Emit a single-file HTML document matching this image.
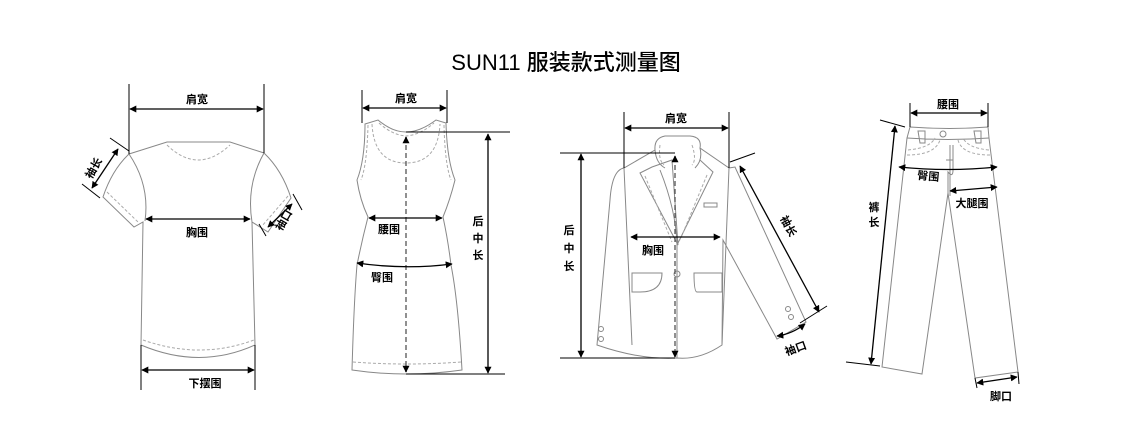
<!DOCTYPE html>
<html><head><meta charset="utf-8"><style>
body{margin:0;background:#fff;width:1132px;height:447px;overflow:hidden}
svg{display:block}
text{font-family:"Liberation Sans","Noto Sans CJK SC",sans-serif;fill:#000}
.g{fill:none;stroke:#888;stroke-width:1}
.d{fill:none;stroke:#aaa;stroke-width:1;stroke-dasharray:3 2}
.a{fill:none;stroke:#000;stroke-width:1.3;marker-start:url(#m);marker-end:url(#m)}
.t{stroke:#000;stroke-width:1;fill:none}
.l{font-size:11px;font-weight:bold}
</style></head><body>
<svg width="1132" height="447" viewBox="0 0 1132 447">
<defs><marker id="m" viewBox="0 0 10 10" refX="9" refY="5" markerWidth="7" markerHeight="7" orient="auto-start-reverse" markerUnits="userSpaceOnUse"><path d="M0,0L10,5L0,10z" fill="#000"/></marker></defs>
<text x="566" y="70" font-size="22" text-anchor="middle" font-weight="500">SUN11 服装款式测量图</text>

<!-- T-shirt -->
<path class="g" d="M129,154 L167,142 L230,142 L264,153 Q282,170 291,198 L268,232 L252,222 L255,345 Q200,370 141,345 L143,222 L134,227 L103,197 Q112,170 129,154 Z"/>
<path class="g" d="M145,221 Q150,185 129,154 M252,222 Q246,185 264,153"/>
<path class="d" d="M167,145 Q198,175 230,145 M107,192 L138,222 M288,196 L262,226 M143,340 Q200,360 254,340"/>
<path class="t" d="M129,84V154 M264,84V153 M141,345V390 M255,345V390 M110,138L129,151 M82,184L100,198 M293,194L302,210 M259,224L266,236"/>
<path class="a" d="M130,109H263"/>
<path class="a" d="M146,219H250"/>
<path class="a" d="M142,370H254"/>
<path class="a" d="M118,149L92,188"/>
<path class="a" d="M292,204L268,227"/>
<text class="l" x="197" y="103" text-anchor="middle">肩宽</text>
<text class="l" x="197" y="236" text-anchor="middle">胸围</text>
<text class="l" x="205" y="387" text-anchor="middle">下摆围</text>
<text class="l" transform="translate(97,170) rotate(-60)" text-anchor="middle">袖长</text>
<text class="l" transform="translate(287,222) rotate(-60)" text-anchor="middle">袖口</text>

<!-- Dress -->
<path class="g" d="M365,124 L378,120 Q392,132 406,132 Q420,132 436,120 L446,123 Q447,160 455,180 Q450,200 443,217 Q448,240 451,265 Q458,300 462,370 Q406,378 352,370 Q354,300 357,265 Q362,240 368,217 Q360,200 357,180 Q365,160 365,124 Z"/>
<path class="d" d="M372,124 Q374,163 406,163 Q438,163 440,124 M368,125 Q367,165 361,180 M444,125 Q445,165 451,180 M353,362 Q406,366 461,362 M379,123 Q392,135 406,136 Q420,135 434,123"/>
<path class="t" d="M362,90V123 M447,90V123 M406,132H510 M406,374H505"/>
<path d="M406,137V372" stroke="#555" stroke-width="1.3" stroke-dasharray="5 3" fill="none"/>
<path class="a" d="M406,137V140 M406,371V372"/>
<path class="a" d="M363,108H446"/>
<path class="a" d="M369,218H442"/>
<path class="a" d="M357,263Q405,270 452,264"/>
<path class="a" d="M488,134V373"/>
<text class="l" x="406" y="102" text-anchor="middle">肩宽</text>
<text class="l" x="389" y="233" text-anchor="middle">腰围</text>
<text class="l" x="382" y="281" text-anchor="middle">臀围</text>
<text class="l" x="478" y="225" text-anchor="middle">后</text>
<text class="l" x="478" y="242" text-anchor="middle">中</text>
<text class="l" x="478" y="259" text-anchor="middle">长</text>

<!-- Jacket -->
<path class="g" d="M624,168 Q612,170 610,200 L597,345 Q640,360 677,358 Q700,360 722,345 L729,168 L700,148 Q702,137 690,136 L665,136 Q654,138 655,150 Z"/>
<path class="g" d="M624,168 L632,345 M722,345 L723,240 L777,339 L806,322 L735,167 L729,168 M640,173 L652,167 L672,160 L678,245 Z M700,160 L713,172 L677,245 M660,170 Q676,210 677,245 L677,358 M655,150 Q656,163 665,168 M700,148 Q703,160 695,168 M632,273H662Q662,292 640,292 H632Z M694,273H722V292H697Q694,292 694,273Z M704,203H717V207H704Z"/>
<path class="d" d="M645,176 L672,242 M707,175 L680,240 M660,145 Q658,160 664,165 M692,145 Q697,160 692,165"/>
<circle class="g" cx="677" cy="274" r="3"/><circle class="g" cx="601" cy="329" r="2.5"/><circle class="g" cx="601" cy="339" r="2.5"/><circle class="g" cx="788" cy="309" r="2.5"/><circle class="g" cx="791" cy="317" r="2.5"/>
<path class="t" d="M624,112V168 M729,112V168 M560,153H675 M560,358H675 M730,162L755,153 M800,323L827,306"/>
<path d="M675,157V357" stroke="#555" stroke-width="1.3" stroke-dasharray="5 3" fill="none"/>
<path class="a" d="M675,156V158 M675,356V357"/>
<path class="a" d="M625,128H728"/>
<path class="a" d="M581,154V357"/>
<path class="a" d="M631,237H720"/>
<path class="a" d="M740,166L819,312"/>
<path class="a" d="M777,336Q792,334 805,324"/>
<text class="l" x="676" y="122" text-anchor="middle">肩宽</text>
<text class="l" x="653" y="254" text-anchor="middle">胸围</text>
<text class="l" x="569" y="234" text-anchor="middle">后</text>
<text class="l" x="569" y="252" text-anchor="middle">中</text>
<text class="l" x="569" y="270" text-anchor="middle">长</text>
<text class="l" transform="translate(785,228) rotate(62)" text-anchor="middle">袖长</text>
<text class="l" transform="translate(797,352) rotate(-20)" text-anchor="middle">袖口</text>

<!-- Pants -->
<path class="g" d="M910,127 Q950,130 988,127 L989,138 L1018,372 L975,378 L948,193 L922,374 L882,367 L907,138 Z"/>
<path class="g" d="M907,138 Q948,141 989,138 M918,131H925V143H920Z M974,131H981V143H976Z M950,196 L950,145 M946,160 H953 M948,196 V172 Q953,178 953,170 V145"/>
<circle class="g" cx="943" cy="134" r="3"/>
<path class="d" d="M908,150 Q930,148 935,138 M989,150 Q968,148 963,138 M907,155 Q935,155 940,140 M990,155 Q962,155 958,140"/>
<path class="t" d="M910,103V127 M988,103V127 M880,120L905,127 M846,362L880,366 M975,378L977,388 M1018,372L1019,384"/>
<path class="a" d="M911,113H987"/>
<path class="a" d="M899,167Q948,172 997,167"/>
<path class="a" d="M950,191L997,187"/>
<path class="a" d="M895,126L871,364"/>
<path class="a" d="M977,383L1017,377"/>
<text class="l" x="948" y="108" text-anchor="middle">腰围</text>
<text class="l" transform="translate(928,180) rotate(5)" text-anchor="middle">臀围</text>
<text class="l" x="972" y="207" text-anchor="middle">大腿围</text>
<text class="l" x="874" y="211" text-anchor="middle">裤</text>
<text class="l" x="874" y="226" text-anchor="middle">长</text>
<text class="l" x="1001" y="400" text-anchor="middle">脚口</text>
</svg>
</body></html>
